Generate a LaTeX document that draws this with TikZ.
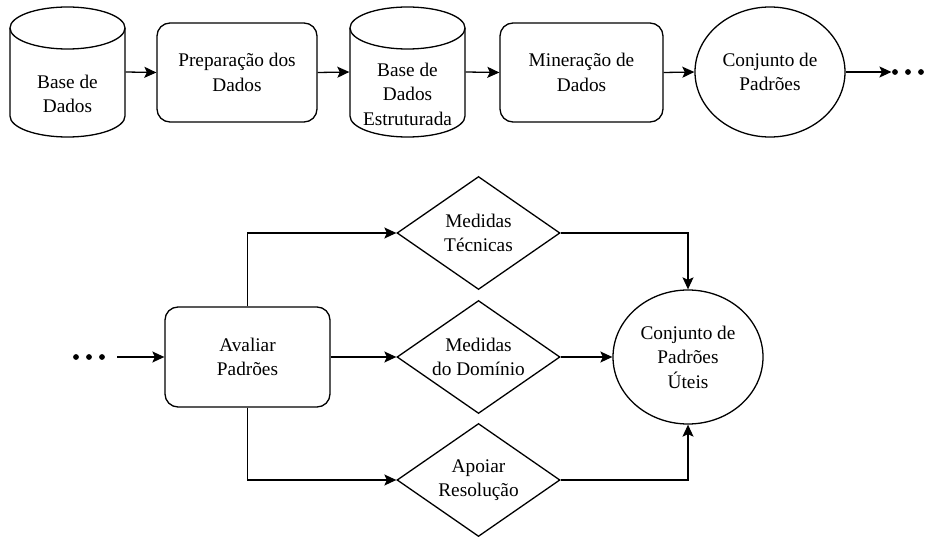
\documentclass[tikz,border=0pt]{standalone}
\usepackage{fontspec}
\setmainfont{Liberation Serif}
\usetikzlibrary{shapes.geometric,arrows.meta}
\begin{document}
\begin{tikzpicture}[x=1pt,y=-1pt, line width=1.3pt,
  every node/.style={font=\fontsize{19.3}{24.5}\selectfont, align=center, inner sep=0pt},
  arr/.style={-{Stealth[length=12pt,width=11pt,inset=2.5pt]}},
  rbox/.style={draw, rounded corners=13pt, minimum height=99pt},
  oval/.style={draw, ellipse, minimum width=150pt},
  dia/.style={draw, diamond, minimum width=163pt, minimum height=113pt},
  dot/.style={circle, fill, minimum size=5.8pt}]
\useasboundingbox (0,0) rectangle (926,537);

% top row
\node[minimum width=115pt, minimum height=130pt] (c1) at (67.5,72) {};
\draw (10,28) -- (10,116) arc[start angle=180, end angle=360, x radius=57.5pt, y radius=21pt] -- (125,28);
\draw (67.5,28) ellipse [x radius=57.5pt, y radius=21pt];
\node (c1t) at (67.5,94) {Base de\\Dados};

\node[rbox, minimum width=160pt] (b1) at (237,72.5) {Preparação dos\\Dados};

\node[minimum width=115pt, minimum height=130pt] (c2) at (407.5,72) {};
\draw (350,28) -- (350,116) arc[start angle=180, end angle=360, x radius=57.5pt, y radius=21pt] -- (465,28);
\draw (407.5,28) ellipse [x radius=57.5pt, y radius=21pt];
\node (c2t) at (407.5,94) {Base de\\Dados\\Estruturada};

\node[rbox, minimum width=163pt] (b2) at (581.5,72.5) {Mineração de\\Dados};

\node[oval, minimum height=130pt] (p1) at (770,72) {Conjunto de\\Padrões};

\node[dot] (m1) at (895,72) {};
\node[dot] (m2) at (908,72) {};
\node[dot] (m3) at (921,72) {};

\draw[arr] (c1.east) -- (b1.west);
\draw[arr] (b1.east) -- (c2.west);
\draw[arr] (c2.east) -- (b2.west);
\draw[arr] (b2.east) -- (p1.west);
\draw[arr] (p1.east) -- (m1.west);

% bottom part
\node[dot] (n1) at (76,357) {};
\node[dot] (n2) at (89,357) {};
\node[dot] (n3) at (102,357) {};
\coordinate (s) at (117,357);

\node[rbox, minimum width=165pt, minimum height=100pt] (av) at (247.5,357) {Avaliar\\Padrões};

\node[dia, label={center:Medidas\\Técnicas}] (d1) at (478.5,233) {};
\node[dia, label={center:Medidas\\do Domínio}] (d2) at (478.5,357) {};
\node[dia, label={center:Apoiar\\Resolução}] (d3) at (478.5,480) {};

\node[oval, minimum height=134pt] (p2) at (688,357) {Conjunto de\\Padrões\\Úteis};

\draw[arr] (s) -- (av.west);
\draw[arr] (av.north) |- (d1.west);
\draw[arr] (av.east) -- (d2.west);
\draw[arr] (av.south) |- (d3.west);
\draw[arr] (d1.east) -| (p2.north);
\draw[arr] (d2.east) -- (p2.west);
\draw[arr] (d3.east) -| (p2.south);
\end{tikzpicture}
\end{document}
